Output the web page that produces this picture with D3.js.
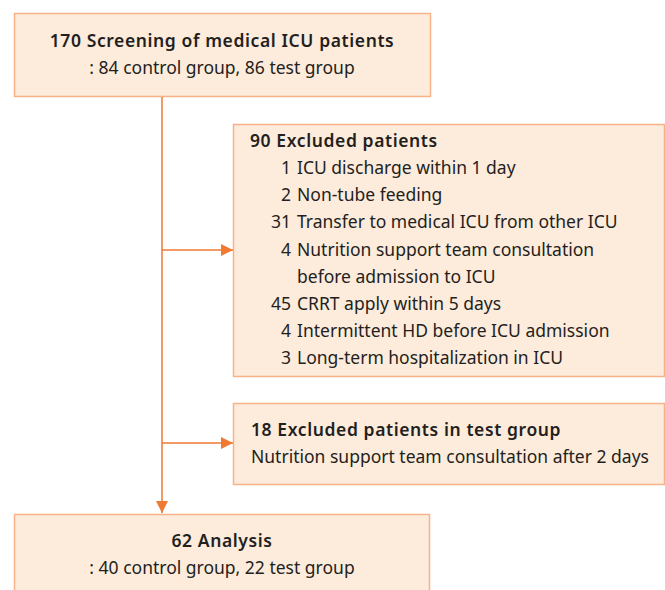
<!DOCTYPE html>
<html>
<head>
<meta charset="utf-8">
<script src="https://cdn.jsdelivr.net/npm/d3@7"></script>
<style>
  body { margin: 0; background: #fff; }
  svg text { font-family: "Noto Sans", sans-serif; fill: #231f20; }
</style>
</head>
<body>
<svg id="flow"></svg>
<script>
const screening = ["170 Screening of medical ICU patients", ": 84 control group, 86 test group"];
const excludedTitle = "90 Excluded patients";
const excludedCounts = ["1", "2", "31", "4", "", "45", "4", "3"];
const excludedReasons = [
  "ICU discharge within 1 day",
  "Non-tube feeding",
  "Transfer to medical ICU from other ICU",
  "Nutrition support team consultation",
  "before admission to ICU",
  "CRRT apply within 5 days",
  "Intermittent HD before ICU admission",
  "Long-term hospitalization in ICU"
];
const testExcluded = ["18 Excluded patients in test group", "Nutrition support team consultation after 2 days"];
const analysis = ["62 Analysis", ": 40 control group, 22 test group"];

const width = 665, height = 590;
const fill = "#fdebdc", border = "#f7b28a", line = "#f07a32";
const lh = 27.2;
const boldSpacing = 0.6;

const svg = d3.select("#flow").attr("width", width).attr("height", height);

const defs = svg.append("defs");
defs.append("marker")
  .attr("id", "arrow")
  .attr("viewBox", "0 0 12 12")
  .attr("refX", 12).attr("refY", 6)
  .attr("markerWidth", 12).attr("markerHeight", 12)
  .attr("markerUnits", "userSpaceOnUse")
  .attr("orient", "auto")
  .append("path")
  .attr("d", "M0,0L12,6L0,12Z")
  .attr("fill", line);

const box = (x, y, w, h) => svg.append("rect")
  .attr("x", x + 0.5).attr("y", y + 0.5)
  .attr("width", w).attr("height", h)
  .attr("fill", fill)
  .attr("stroke", border)
  .attr("stroke-width", 1.5);

// boxes
box(14, 13, 416, 83);
box(233, 124, 431, 252);
box(233, 403, 431, 81);
box(14, 514, 415, 90);

// connectors
const trunkX = 162;
svg.append("line")
  .attr("x1", trunkX).attr("y1", 97).attr("x2", trunkX).attr("y2", 513)
  .attr("stroke", line).attr("stroke-width", 1.5)
  .attr("marker-end", "url(#arrow)");
[250, 443].forEach(y => {
  svg.append("line")
    .attr("x1", trunkX).attr("y1", y).attr("x2", 233).attr("y2", y)
    .attr("stroke", line).attr("stroke-width", 1.5)
    .attr("marker-end", "url(#arrow)");
});

// top box text
svg.append("g").selectAll("text")
  .data(screening).enter().append("text")
  .attr("x", 222)
  .attr("y", (d, i) => 47 + i * lh)
  .attr("text-anchor", "middle")
  .attr("font-size", 17.5)
  .attr("font-weight", (d, i) => i == 0 ? 600 : 400)
  .attr("letter-spacing", (d, i) => i == 0 ? boldSpacing : 0)
  .text(d => d);

// excluded box
svg.append("text")
  .attr("x", 250).attr("y", 147)
  .attr("font-size", 17.5).attr("font-weight", 600)
  .attr("letter-spacing", boldSpacing)
  .text(excludedTitle);

const rows = svg.append("g").selectAll("g")
  .data(excludedReasons).enter().append("g")
  .attr("transform", (d, i) => `translate(0,${174 + i * lh})`);
rows.append("text")
  .attr("x", 291).attr("text-anchor", "end")
  .attr("font-size", 17.5)
  .text((d, i) => excludedCounts[i]);
rows.append("text")
  .attr("x", 297)
  .attr("font-size", 17.5)
  .text(d => d);

// test-group exclusion box
svg.append("g").selectAll("text")
  .data(testExcluded).enter().append("text")
  .attr("x", 251)
  .attr("y", (d, i) => 436 + i * lh)
  .attr("font-size", 17.5)
  .attr("font-weight", (d, i) => i == 0 ? 600 : 400)
  .attr("letter-spacing", (d, i) => i == 0 ? boldSpacing : 0)
  .text(d => d);

// analysis box
svg.append("g").selectAll("text")
  .data(analysis).enter().append("text")
  .attr("x", 222)
  .attr("y", (d, i) => 547 + i * lh)
  .attr("text-anchor", "middle")
  .attr("font-size", 17.5)
  .attr("font-weight", (d, i) => i == 0 ? 600 : 400)
  .attr("letter-spacing", (d, i) => i == 0 ? boldSpacing : 0)
  .text(d => d);
</script>
</body>
</html>
